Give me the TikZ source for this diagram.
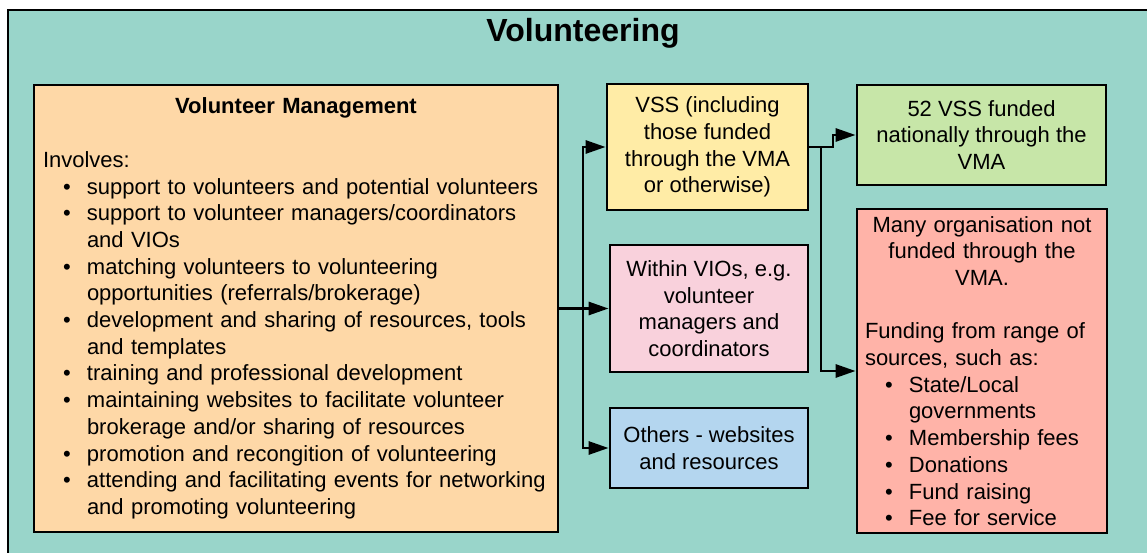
\documentclass[tikz,border=0pt]{standalone}
\usepackage{fontspec}
\setmainfont{Liberation Sans}
\usetikzlibrary{arrows.meta}

\definecolor{fondo}{RGB}{153,213,202}
\definecolor{naranja}{RGB}{254,216,167}
\definecolor{amarillo}{RGB}{255,236,166}
\definecolor{rosa}{RGB}{249,209,220}
\definecolor{azul}{RGB}{180,214,239}
\definecolor{verde}{RGB}{199,230,168}
\definecolor{rojo}{RGB}{255,179,168}

\newcommand{\punto}[1]{\hspace*{20pt}\makebox[24pt][l]{\textbullet}#1}
\newcommand{\sigue}[1]{\hspace*{44pt}#1}

\begin{document}
\begin{tikzpicture}[
  x=1pt, y=-1pt,
  cbox/.style={draw=black, line width=2.8pt, inner sep=0pt, align=center, font=\fontsize{22}{26.7}\selectfont},
  conn/.style={line width=2.8pt, draw=black, -{Triangle[length=20pt,width=13pt]}}
]
  \useasboundingbox (0,0) rectangle (1147,553);

  % Marco y titulo
  \draw[fill=fondo, line width=2.8pt] (8,10) rectangle (1175,580);
  \node[font=\fontsize{32}{38}\selectfont\bfseries, anchor=base] (titulo) at (583,42) {Volunteering};

  % Cajas
  \node[cbox, fill=naranja, minimum width=524pt, minimum height=447pt, text width=506pt, align=left] (gestion) at (296,308.5) {%
    \makebox[\linewidth]{\bfseries Volunteer Management}\\
    ~\\
    Involves:\\
    \punto{support to volunteers and potential volunteers}\\
    \punto{support to volunteer managers/coordinators}\\
    \sigue{and VIOs}\\
    \punto{matching volunteers to volunteering}\\
    \sigue{opportunities (referrals/brokerage)}\\
    \punto{development and sharing of resources, tools}\\
    \sigue{and templates}\\
    \punto{training and professional development}\\
    \punto{maintaining websites to facilitate volunteer}\\
    \sigue{brokerage and/or sharing of resources}\\
    \punto{promotion and recongition of volunteering}\\
    \punto{attending and facilitating events for networking}\\
    \sigue{and promoting volunteering}};
  \node[cbox, fill=amarillo, minimum width=201pt, minimum height=126pt] (vss) at (707.5,147) {VSS (including\\those funded\\through the VMA\\or otherwise)};
  \node[cbox, fill=rosa, minimum width=198pt, minimum height=127pt] (vios) at (709,308.5) {Within VIOs, e.g.\\volunteer\\managers and\\coordinators};
  \node[cbox, fill=azul, minimum width=198pt, minimum height=80pt] (otros) at (709,448) {Others - websites\\and resources};
  \node[cbox, fill=verde, minimum width=249pt, minimum height=100pt] (financiadas) at (981.5,135) {52 VSS funded\\nationally through the\\VMA};
  \node[cbox, fill=rojo, minimum width=250pt, minimum height=324pt, text width=234pt, align=left] (noVMA) at (982,371) {%
    \makebox[\linewidth]{Many organisation not}\\
    \makebox[\linewidth]{funded through the}\\
    \makebox[\linewidth]{VMA.}\\
    ~\\
    Funding from range of\\
    sources, such as:\\
    \punto{State/Local}\\
    \sigue{governments}\\
    \punto{Membership fees}\\
    \punto{Donations}\\
    \punto{Fund raising}\\
    \punto{Fee for service}};

  % Flechas
  \coordinate (tronco) at (583,308.5);
  \coordinate (codo1) at (833,147);
  \coordinate (codo2) at (821,147);
  \draw[conn] (gestion.east) -- (vios.west);
  \draw[conn] (tronco) |- (vss.west);
  \draw[conn] (tronco) |- (otros.west);
  \draw[conn] (vss.east) -- (codo1) |- (financiadas.west);
  \draw[conn] (codo2) |- (noVMA.west);
\end{tikzpicture}
\end{document}
